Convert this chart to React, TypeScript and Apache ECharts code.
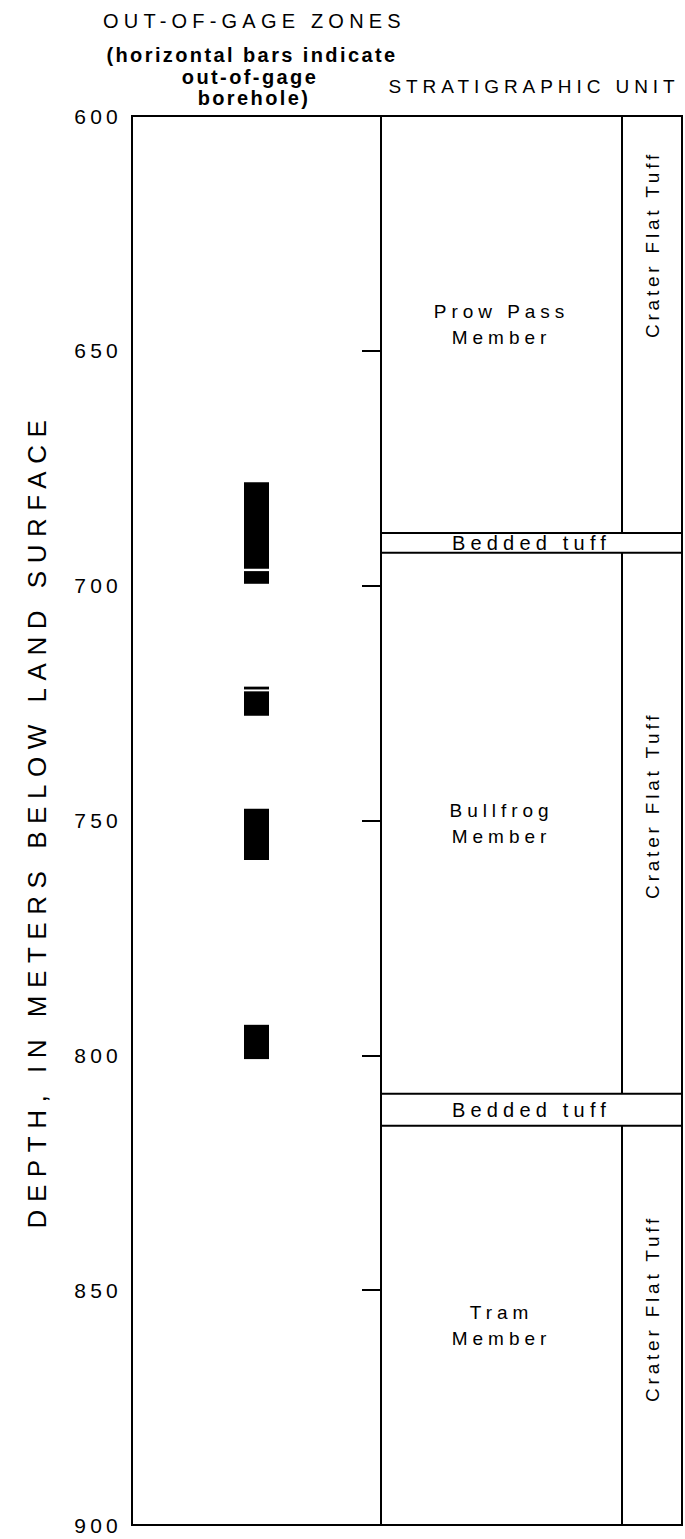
import React, { useEffect, useRef } from "react";
import * as echarts from "echarts";

// ---- data ----
const depthTicks = [600, 650, 700, 750, 800, 850, 900];
const gageTop = [678, 696.9, 721.5, 722.5, 747.5, 793.5];
const gageBottom = [696.4, 699.6, 722.1, 727.7, 758.4, 800.8];
const unitNames = ["Prow Pass\nMember", "Bedded tuff", "Bullfrog\nMember", "Bedded tuff", "Tram\nMember"];
const unitTop = [600, 688.8, 693.0, 808.2, 815.0];
const unitBottom = [688.8, 693.0, 808.2, 815.0, 900];
const unitFormation = ["Crater Flat Tuff", "", "Crater Flat Tuff", "", "Crater Flat Tuff"];
const headerLeft = ["OUT-OF-GAGE ZONES", "(horizontal bars indicate", "out-of-gage", "borehole)"];
const headerRight = "STRATIGRAPHIC UNIT";
const axisTitle = "DEPTH, IN METERS BELOW LAND SURFACE";

// ---- layout ----
const W = 685, H = 1539;
const L = 132, D1 = 381, D2 = 622, R = 682, T = 116, B = 1525;
const FONT = "'Liberation Sans', Arial, Helvetica, sans-serif";
const memberShare = (D2 - D1) / (R - D1);
const formationShift = [-80, 0, -18, 0, -17];

const spacingFor = (s: string): string => {
  if (s === headerLeft[1] || s === headerLeft[2] || s === headerLeft[3]) return "0.12em";
  if (s === axisTitle) return "0.29em";
  if (s === unitFormation[0]) return "0.2em";
  if (/^\d+$/.test(s)) return "0.2em";
  return "0.26em";
};

export default function App() {
  const ref = useRef<HTMLDivElement>(null);
  useEffect(() => {
    document.body.style.margin = "0";
    const el = ref.current!;
    const chart = echarts.init(el, undefined, { renderer: "svg", width: W, height: H });
    const option: any = {
      animation: false,
      backgroundColor: "#fff",
      grid: [
        { left: L, top: T, width: D1 - L, height: B - T, show: true, borderColor: "#000", borderWidth: 2 },
        { left: D1, top: T, width: R - D1, height: B - T, show: true, borderColor: "#000", borderWidth: 2 },
      ],
      xAxis: [
        { gridIndex: 0, type: "value", min: 0, max: 1, show: false },
        { gridIndex: 1, type: "value", min: 0, max: 1, show: false },
      ],
      yAxis: [
        {
          gridIndex: 0, type: "value", inverse: true,
          min: depthTicks[0], max: depthTicks[depthTicks.length - 1], interval: depthTicks[1] - depthTicks[0],
          axisLine: { show: false }, axisTick: { show: false }, splitLine: { show: false },
          axisLabel: { color: "#000", fontSize: 21, fontFamily: FONT, margin: 10 },
          name: axisTitle, nameLocation: "middle", nameRotate: 90, nameGap: 82,
          nameTextStyle: { color: "#000", fontSize: 26, fontFamily: FONT },
        },
        {
          gridIndex: 1, type: "value", inverse: true,
          min: depthTicks[0], max: depthTicks[depthTicks.length - 1], interval: depthTicks[1] - depthTicks[0],
          axisLine: { show: true, lineStyle: { color: "#000", width: 2 } },
          axisTick: { show: true, inside: false, length: 19, lineStyle: { color: "#000", width: 2 } },
          axisLabel: { show: false }, splitLine: { show: false },
        },
      ],
      graphic: [
        { type: "text", x: 103, y: 21, style: { text: headerLeft[0], fill: "#000", fontSize: 20, fontFamily: FONT, align: "left", verticalAlign: "middle" } },
        { type: "text", x: 252, y: 55, style: { text: headerLeft[1], fill: "#000", fontSize: 20, fontWeight: "bold", fontFamily: FONT, align: "center", verticalAlign: "middle" } },
        { type: "text", x: 250, y: 77, style: { text: headerLeft[2], fill: "#000", fontSize: 20, fontWeight: "bold", fontFamily: FONT, align: "center", verticalAlign: "middle" } },
        { type: "text", x: 254, y: 98, style: { text: headerLeft[3], fill: "#000", fontSize: 20, fontWeight: "bold", fontFamily: FONT, align: "center", verticalAlign: "middle" } },
        { type: "text", x: 534, y: 86, style: { text: headerRight, fill: "#000", fontSize: 19, fontFamily: FONT, align: "center", verticalAlign: "middle" } },
      ],
      series: [
        {
          type: "custom", xAxisIndex: 0, yAxisIndex: 0,
          data: gageTop.map((t, i) => [0.5, t, gageBottom[i]]),
          renderItem: (_p: any, api: any) => {
            const a = api.coord([api.value(0), api.value(1)]);
            const b = api.coord([api.value(0), api.value(2)]);
            return { type: "rect", shape: { x: a[0] - 12.5, y: a[1], width: 25, height: b[1] - a[1] }, style: { fill: "#000" } };
          },
        },
        {
          type: "custom", xAxisIndex: 1, yAxisIndex: 1,
          data: unitTop.map((t, i) => [i, t, unitBottom[i]]),
          renderItem: (_p: any, api: any) => {
            const i = api.value(0);
            const a = api.coord([0, api.value(1)]);
            const b = api.coord([1, api.value(2)]);
            const x0 = a[0], y0 = a[1], x1 = b[0], y1 = b[1];
            const xm = x0 + (x1 - x0) * memberShare;
            const ym = (y0 + y1) / 2;
            const children: any[] = [];
            if (!unitFormation[i]) {
              children.push({ type: "rect", shape: { x: x0, y: y0, width: x1 - x0, height: y1 - y0 }, style: { fill: "none", stroke: "#000", lineWidth: 2 } });
              children.push({ type: "text", x: (x0 + x1) / 2, y: ym, style: { text: unitNames[i], fill: "#000", fontSize: 20, fontFamily: FONT, align: "center", verticalAlign: "middle" } });
            } else {
              children.push({ type: "line", shape: { x1: xm, y1: y0, x2: xm, y2: y1 }, style: { stroke: "#000", lineWidth: 2 } });
              children.push({ type: "text", x: (x0 + xm) / 2, y: ym, style: { text: unitNames[i], fill: "#000", fontSize: 19, lineHeight: 26, fontFamily: FONT, align: "center", verticalAlign: "middle" } });
              children.push({ type: "text", x: (xm + x1) / 2, y: ym + formationShift[i], rotation: Math.PI / 2, style: { text: unitFormation[i], fill: "#000", fontSize: 19, fontFamily: FONT, align: "center", verticalAlign: "middle" } });
            }
            return { type: "group", children };
          },
        },
      ],
    };
    chart.setOption(option);
    const applySpacing = () => {
      el.querySelectorAll("text").forEach((t) => {
        (t as SVGTextElement).style.letterSpacing = spacingFor((t.textContent || "").trim());
      });
    };
    applySpacing();
    chart.on("finished", applySpacing);
    return () => chart.dispose();
  }, []);
  return <div ref={ref} style={{ position: "absolute", left: 0, top: 0, width: W, height: H }} />;
}
